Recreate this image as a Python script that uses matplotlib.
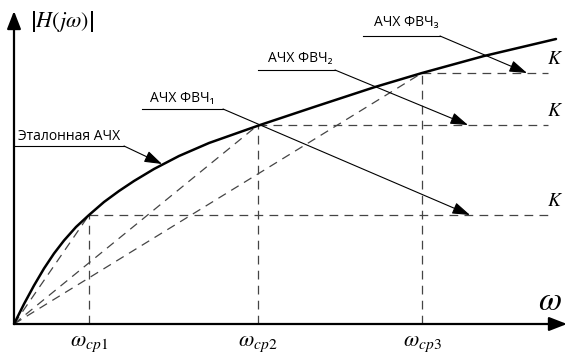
import matplotlib
matplotlib.use("Agg")
import matplotlib.pyplot as plt

plt.rcParams['mathtext.fontset'] = 'stix'
SANS = ['Open Sans', 'DejaVu Sans']

# reference response |H(jw)|, hand-read points
w_ref = [0, 10, 20, 30, 40, 50, 62, 75, 90, 105, 120, 140, 165, 195, 246, 300, 361, 408, 470, 542]
h_ref = [0, 20, 38.5, 55.5, 70.5, 83.5, 97, 109, 122, 133, 143, 155, 168, 181, 199, 217, 237, 251, 268, 285]

# cutoff frequencies of the three high-pass filters and their gain levels
w_cp = [75, 244, 408]
k_level = [109, 199, 251]
w_cp_labels = [r'$\omega_{cp1}$', r'$\omega_{cp2}$', r'$\omega_{cp3}$']
k_end = 534

# callouts: text, text position, underline span, arrow tip
callout_text = ['Эталонная АЧХ', 'АЧХ ФВЧ\u2081', 'АЧХ ФВЧ\u2082', 'АЧХ ФВЧ\u2083']
callout_xy = [(55, 188), (168, 226), (286, 266), (392, 301)]
callout_line = [(1, 110, 178), (128, 209, 215), (244, 321, 254), (349, 426, 288)]
callout_tip = [(148, 160), (456, 109), (454, 199), (513, 251)]

fig = plt.figure(figsize=(5.67, 3.56), dpi=100)
ax = fig.add_axes([0, 0, 1, 1])
ax.set_xlim(-14, 553)
ax.set_ylim(-32, 324)
ax.axis('off')

dash = dict(color='#444444', lw=0.9, dashes=(7, 5))

for w, k in zip(w_cp, k_level):
    ax.plot([0, w], [0, k], **dash)
    ax.plot([w, w], [0, k], **dash)
    ax.plot([w, k_end], [k, k], **dash)
    ax.text(541, k + 14, r'$K$', fontsize=14, ha='center', va='center')

for w, lab in zip(w_cp, w_cp_labels):
    ax.text(w, -20, lab, fontsize=16, ha='center', va='center')

ax.plot(w_ref, h_ref, color='black', lw=1.8, solid_capstyle='round')

# coordinate axes with arrowheads
head = dict(arrowstyle='-|>,head_length=0.9,head_width=0.35', color='black',
            lw=1.6, mutation_scale=12, shrinkA=0, shrinkB=0)
ax.annotate('', xy=(553, 0), xytext=(0, 0), arrowprops=head)
ax.annotate('', xy=(0, 313), xytext=(0, 0), arrowprops=head)
ax.text(16, 302, r'$\left|H\left(j\omega\right)\right|$', fontsize=16,
        ha='left', va='center')
ax.text(548, 24, r'$\omega$', fontsize=24, ha='right', va='center')

thin = dict(arrowstyle='-|>,head_length=0.9,head_width=0.3', color='black',
            lw=0.8, mutation_scale=12, shrinkA=0, shrinkB=0)
for txt, (tx, ty), (x0, x1, yl), tip in zip(callout_text, callout_xy,
                                            callout_line, callout_tip):
    ax.text(tx, ty, txt, fontsize=10, family=SANS, ha='center', va='center')
    ax.plot([x0, x1], [yl, yl], color='black', lw=0.8)
    ax.annotate('', xy=tip, xytext=(x1, yl), arrowprops=thin)

fig.savefig('out.png', dpi=100)
